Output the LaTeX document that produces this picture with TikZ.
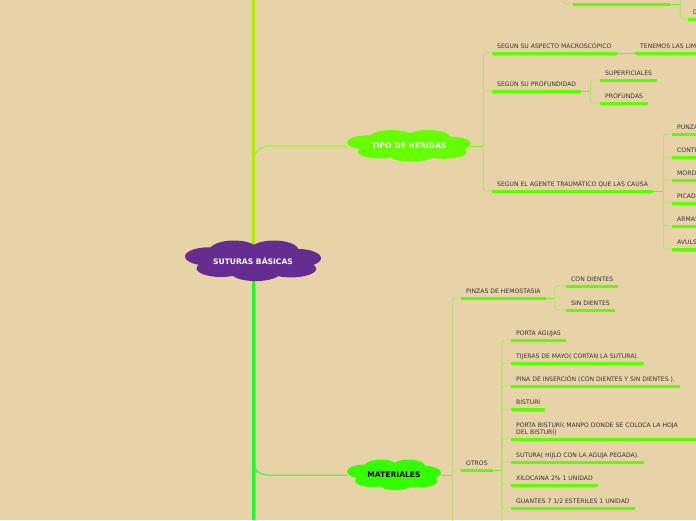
\documentclass[tikz,border=0pt]{standalone}
\usepackage{fontspec}
\setmainfont{DejaVu Sans}
\definecolor{paper}{RGB}{232,211,168}
\definecolor{ink}{RGB}{51,51,51}
\definecolor{sutpurple}{RGB}{102,45,145}
\definecolor{tipogreen}{RGB}{102,255,0}
\definecolor{matgreen}{RGB}{51,255,0}
\definecolor{ulgreen}{RGB}{90,255,0}
\definecolor{twiggreen}{RGB}{176,226,110}
\definecolor{stubgreen}{RGB}{120,235,50}
\definecolor{trunkup}{RGB}{170,238,0}
\definecolor{trunkdown}{RGB}{20,255,40}
\definecolor{tipolink}{RGB}{150,238,50}
\definecolor{matlink}{RGB}{60,240,50}
\pgfdeclarelayer{back}
\pgfdeclarelayer{mid}
\pgfsetlayers{back,mid,main}
% cloud of puffs behind a topic node: node, colour, half width, half height
\newcommand{\puffs}[4]{%
  \begin{pgfonlayer}{mid}
    \begin{scope}[shift={(#1.center)},x=#3pt,y=-#4pt]
      \fill[#2] (0,0) ellipse [x radius=0.72,y radius=0.62];
      \foreach \px/\py/\rx/\ry in {-0.65/-0.22/0.35/0.45, -0.28/-0.52/0.36/0.48, 0.31/-0.52/0.36/0.48,
        0.65/-0.14/0.35/0.45, -0.47/0.36/0.36/0.42, 0.04/0.55/0.37/0.43, 0.56/0.38/0.37/0.42}
        \fill[#2] (\px,\py) ellipse [x radius=\rx,y radius=\ry];
    \end{scope}
  \end{pgfonlayer}}

\begin{document}
\begin{tikzpicture}[x=1pt,y=-1pt,
  topic/.style={inner sep=0pt,font=\fontsize{7.6}{9}\selectfont\bfseries},
  leaf/.style={anchor=south west,inner xsep=5pt,inner ysep=4pt,text depth=0pt,text=ink,font=\fontsize{6.1}{7.2}\selectfont},
  uline/.style={draw=ulgreen,line width=3pt},
  twig/.style={draw=twiggreen,line width=0.9pt,rounded corners=3pt},
  stub/.style={draw=stubgreen,line width=0.9pt}]
  \useasboundingbox (0,0) rectangle (696,520);
  \clip (0,0) rectangle (696,520);

  % central topic and main branches
  \node[topic,text=white,minimum width=136pt,minimum height=41pt] (sut) at (253,261) {SUTURAS BÁSICAS};
  \node[topic,text=white,minimum width=124pt,minimum height=32pt] (tipo) at (409,146) {TIPO DE HERIDAS};
  \node[topic,text=black,minimum width=94pt,minimum height=31pt] (mat) at (394,475) {MATERIALES};
  \puffs{sut}{sutpurple}{68}{20.5}
  \puffs{tipo}{tipogreen}{62}{16}
  \puffs{mat}{matgreen}{47}{15.5}
  \coordinate (trunktop) at (253,0);
  \coordinate (trunkbot) at (253,520);

  % branch above, cut by the top edge
  \coordinate (prevup) at (563,-12);
  \node[leaf,minimum width=97pt] (prev) at (573,4) {};
  \node[leaf] (dnode) at (688,19) {D};
  \coordinate (prevabove) at (688,-12);

  % tipo de heridas
  \node[leaf] (aspecto) at (492,53) {SEGUN SU ASPECTO MACROSCÓPICO};
  \node[leaf] (limites) at (635,53) {TENEMOS LAS LIM};
  \node[leaf] (profund) at (492,91) {SEGÚN SU PROFUNDIDAD};
  \node[leaf] (superf) at (600,80) {SUPERFICIALES};
  \node[leaf] (profundas) at (600,103) {PROFUNDAS};
  \node[leaf] (agente) at (492,191) {SEGUN EL AGENTE TRAUMÁTICO QUE LAS CAUSA};
  \foreach \t [count=\i] in {PUNZA,CONTU,MORDE,PICADO,ARMAS,AVULS}
    \node[leaf] (ag\i) at (672,111+23*\i) {\t};

  % materiales
  \node[leaf] (pinzas) at (461,298) {PINZAS DE HEMOSTASIA};
  \node[leaf] (condientes) at (566,286) {CON DIENTES};
  \node[leaf] (sindientes) at (566,310) {SIN DIENTES};
  \node[leaf] (otros) at (461,470) {OTROS};
  \node[leaf] (pagujas) at (511,340) {PORTA AGUJAS};
  \node[leaf] (tijeras) at (511,363) {TIJERAS DE MAYO( CORTAN LA SUTURA).};
  \node[leaf] (pina) at (511,386) {PINA DE INSERCIÓN (CON DIENTES Y SIN DIENTES ).};
  \node[leaf] (bisturi) at (511,409) {BISTURÍ};
  \node[leaf,text width=176pt,text depth=7.2pt,align=left] (pbisturi) at (511,439) {PORTA BISTURÍ( MANPO DONDE SE COLOCA LA HOJA\\DEL BISTURÍ)};
  \node[leaf] (sutura) at (511,462) {SUTURA( HIJLO CON LA AGUJA PEGADA).};
  \node[leaf] (xilo) at (511,485) {XILOCAINA 2\% 1 UNIDAD};
  \node[leaf] (guantes) at (511,508) {GUANTES 7 1/2 ESTÉRILES 1 UNIDAD};
  \coordinate (matmore) at (461,540);
  \coordinate (otrmore) at (511,540);

  \foreach \n in {prev,dnode,aspecto,limites,profund,superf,profundas,agente,ag1,ag2,ag3,ag4,ag5,ag6,
    pinzas,condientes,sindientes,otros,pagujas,tijeras,pina,bisturi,pbisturi,sutura,xilo,guantes}
    \draw[uline] (\n.south west) -- (\n.south east);

  % connectors
  \draw[twig] (prevup) |- (prev.south west);
  \draw[stub] (prev.south east) -- ++(10,0) coordinate (prevfork);
  \draw[twig] (prevfork) |- (dnode.south west);
  \draw[twig] (prevfork) |- (prevabove);

  \draw[stub] (tipo.east) -- ++(12,0) coordinate (tipofork);
  \foreach \c in {aspecto,profund,agente} \draw[twig] (tipofork) |- (\c.south west);
  \draw[stub] (aspecto.south east) -- (limites.south west);
  \draw[stub] (profund.south east) -- ++(9,0) coordinate (proffork);
  \foreach \c in {superf,profundas} \draw[twig] (proffork) |- (\c.south west);
  \draw[stub] (agente.south east) -- ++(10,0) coordinate (agfork);
  \foreach \i in {1,...,6} \draw[twig] (agfork) |- (ag\i.south west);

  \draw[stub] (mat.east) -- ++(11,0) coordinate (matfork);
  \foreach \c in {pinzas,otros,matmore} \draw[twig] (matfork) |- (\c.south west);
  \draw[stub] (pinzas.south east) -- ++(9,0) coordinate (pinfork);
  \foreach \c in {condientes,sindientes} \draw[twig] (pinfork) |- (\c.south west);
  \draw[stub] (otros.south east) -- ++(9,0) coordinate (otrfork);
  \foreach \c in {pagujas,tijeras,pina,bisturi,pbisturi,sutura,xilo,guantes,otrmore}
    \draw[twig] (otrfork) |- (\c.south west);

  \begin{pgfonlayer}{back}
    \fill[paper] (0,0) rectangle (696,520);
    \draw[draw=tipolink,line width=1pt,rounded corners=16pt] (sut.center) |- (tipo.west);
    \draw[draw=matlink,line width=1pt,rounded corners=14pt] (sut.center) |- (mat.west);
    \draw[draw=trunkup,line width=3pt] (sut.center) -- (trunktop);
    \draw[draw=trunkdown,line width=3pt] (sut.center) -- (trunkbot);
  \end{pgfonlayer}
\end{tikzpicture}
\end{document}
